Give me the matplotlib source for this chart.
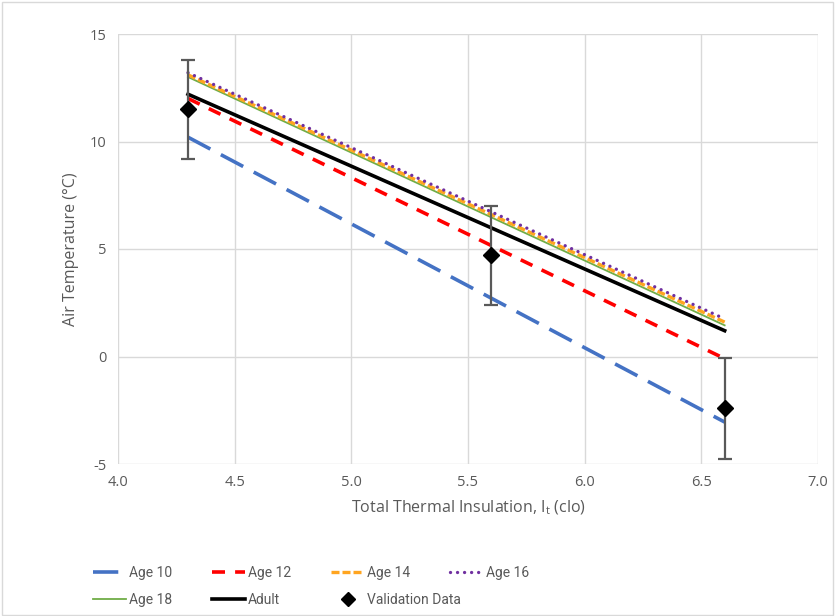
import matplotlib
matplotlib.use("Agg")
import matplotlib.pyplot as plt
from matplotlib.patches import Rectangle
from matplotlib.lines import Line2D

plt.rcParams['font.family'] = ['Open Sans', 'DejaVu Sans']
plt.rcParams['axes.unicode_minus'] = False

x_line = [4.3, 6.6]
age10 = [10.2, -3.05]
age12 = [12.0, -0.1]
age14 = [13.1, 1.6]
age16 = [13.2, 1.75]
age18 = [13.0, 1.45]
adult = [12.2, 1.2]

val_x = [4.3, 5.6, 6.6]
val_y = [11.5, 4.7, -2.4]
val_err = [2.3, 2.3, 2.35]

xticks = [4.0, 4.5, 5.0, 5.5, 6.0, 6.5, 7.0]
yticks = [-5, 0, 5, 10, 15]

gray = '#595959'
st10 = dict(color='#4472C4', lw=2.6, dashes=(7, 3.3))
st12 = dict(color='#FF0000', lw=2.6, dashes=(3.6, 2.8))
st14 = dict(color='#FFA520', lw=2.4, dashes=(2.4, 0.9))
st16 = dict(color='#7030A0', lw=2.4, dashes=(0.01, 2.1), dash_capstyle='round')
st18 = dict(color='#70AD47', lw=1.3)
stad = dict(color='black', lw=2.6)

fig = plt.figure(figsize=(8.36, 6.16), dpi=100)
ax = fig.add_axes([118/836, 1-464/616, 700/836, 430/616])

ax.plot(x_line, age10, zorder=3, **st10)
ax.plot(x_line, age12, zorder=3, **st12)
ax.plot(x_line, age18, zorder=3, **st18)
ax.plot(x_line, age14, zorder=4, **st14)
ax.plot(x_line, age16, zorder=5, **st16)
ax.plot(x_line, adult, zorder=3, **stad)
ax.errorbar(val_x, val_y, yerr=val_err, fmt='D', color='black', ms=8,
            ecolor=gray, elinewidth=1.6, capsize=5, capthick=1.6, zorder=6)

ax.set_xlim(4.0, 7.0)
ax.set_ylim(-5, 15)
ax.set_xticks(xticks)
ax.set_xticklabels([f'{v:.1f}' for v in xticks])
ax.set_yticks(yticks)
ax.grid(True, color='#D9D9D9', lw=1)
ax.set_axisbelow(True)
for s in ax.spines.values():
    s.set_visible(False)
ax.tick_params(length=0, colors=gray, labelsize=10.5, pad=8)
ax.set_xlabel('Total Thermal Insulation, I$_\\mathregular{t}$ (clo)', color=gray, fontsize=11.5, labelpad=6)
ax.set_ylabel('Air Temperature (°C)', color=gray, fontsize=11.5, labelpad=8)

legfont = {'family': ['Roboto', 'Open Sans'], 'size': 10}
columns = [
    ([Line2D([], [], **st10), Line2D([], [], **st18)], ['Age 10', 'Age 18']),
    ([Line2D([], [], **st12), Line2D([], [], **stad)], ['Age 12', 'Adult']),
    ([Line2D([], [], **st14), Line2D([], [], color='black', marker='D', ms=7, ls='none')],
     ['Age 14', 'Validation Data']),
    ([Line2D([], [], **st16)], ['Age 16']),
]
col_x = [93, 212, 331, 450]
for (h, l), cx in zip(columns, col_x):
    fig.legend(h, l, loc='upper left', bbox_to_anchor=(cx/836, 1-566/616),
               frameon=False, prop=legfont, handlelength=2.4, handletextpad=0.2,
               labelcolor=gray, labelspacing=0.95, borderpad=0, borderaxespad=0)

fig.patches.append(Rectangle((0.002, 0.002), 0.995, 0.995, transform=fig.transFigure,
                             fill=False, edgecolor='#D9D9D9', lw=1))
fig.savefig('out.png', dpi=100)
